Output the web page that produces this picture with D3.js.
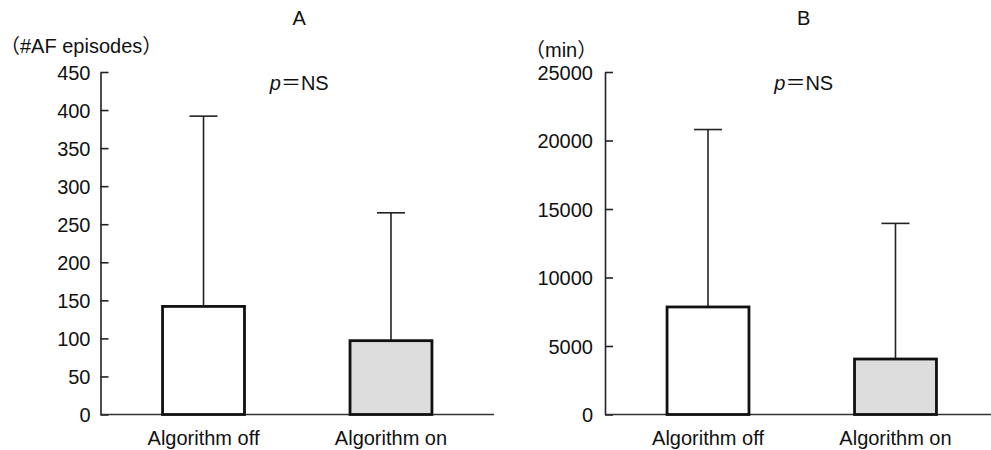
<!DOCTYPE html>
<html>
<head>
<meta charset="utf-8">
<script src="https://cdn.jsdelivr.net/npm/d3@7"></script>
<style>
  body { margin: 0; background: #fff; }
  svg text { font-family: "Liberation Sans", Arial, "Noto Sans CJK JP", sans-serif; fill: #111; }
</style>
</head>
<body>
<svg id="chart" width="991" height="450"></svg>
<script>
// Data
const groups = ['Algorithm off', 'Algorithm on'];
const barFills = ['#ffffff', '#dcdddc'];

// Panel A: number of AF episodes (mean, SD)
const episodesMean = [142, 97];
const episodesSd = [250, 168];
const episodesTicks = [0, 50, 100, 150, 200, 250, 300, 350, 400, 450];

// Panel B: AF duration in minutes (mean, SD)
const minutesMean = [7850, 4050];
const minutesSd = [12950, 9900];
const minutesTicks = [0, 5000, 10000, 15000, 20000, 25000];

const panels = [
    { title: 'A', unit: '（#AF episodes）', unitX: 0, unitY: 53, left: 100.5, mean: episodesMean, sd: episodesSd, ticks: episodesTicks, max: 450, pad: 10 },
    { title: 'B', unit: '（min）', unitX: 525, unitY: 57, left: 605, mean: minutesMean, sd: minutesSd, ticks: minutesTicks, max: 25000, pad: 12 }
];

const svg = d3.select('#chart');
const yBottom = 414.5;
const yTop = 72;
const panelWidth = 393.5;
const capWidth = 28;

panels.forEach(p => {
    const g = svg.append('g');

    const x = d3.scaleBand()
        .domain(groups)
        .range([p.left, p.left + panelWidth])
        .paddingInner(0.563)
        .paddingOuter(0.331);

    const y = d3.scaleLinear()
        .domain([0, p.max])
        .range([yBottom, yTop]);

    const centerX = (x(groups[0]) + x(groups[1]) + x.bandwidth()) / 2 + 2;

    // Titles
    g.append('text')
        .attr('x', centerX).attr('y', 25)
        .attr('text-anchor', 'middle')
        .style('font-size', '20px')
        .text(p.title);

    g.append('text')
        .attr('x', p.unitX).attr('y', p.unitY)
        .style('font-size', '20px')
        .text(p.unit);

    const pText = g.append('text')
        .attr('x', centerX).attr('y', 90)
        .attr('text-anchor', 'middle')
        .style('font-size', '20px');
    pText.append('tspan').style('font-style', 'italic').text('p');
    pText.append('tspan').text('＝NS');

    // Y axis with inward ticks
    const yAxis = g.append('g')
        .attr('transform', `translate(${p.left},0)`)
        .call(d3.axisLeft(y)
            .tickValues(p.ticks)
            .tickSizeInner(-8)
            .tickSizeOuter(0)
            .tickPadding(p.pad)
            .tickFormat(d3.format('d')));
    yAxis.select('.domain').attr('stroke', '#222').attr('stroke-width', 1.6);
    yAxis.selectAll('.tick line').attr('stroke', '#222').attr('stroke-width', 1.6);
    yAxis.selectAll('.tick text')
        .style('font-size', '20px')
        .attr('dy', '0.36em');

    // Baseline
    g.append('line')
        .attr('x1', p.left).attr('x2', Math.min(p.left + panelWidth, 991))
        .attr('y1', y(0)).attr('y2', y(0))
        .attr('stroke', '#333').attr('stroke-width', 1.6);

    // Error bars (upper only)
    groups.forEach((name, i) => {
        const cx = x(name) + x.bandwidth() / 2;
        g.append('line')
            .attr('x1', cx).attr('x2', cx)
            .attr('y1', y(p.mean[i])).attr('y2', y(p.mean[i] + p.sd[i]))
            .attr('stroke', '#222').attr('stroke-width', 1.6);
        g.append('line')
            .attr('x1', cx - capWidth / 2).attr('x2', cx + capWidth / 2)
            .attr('y1', y(p.mean[i] + p.sd[i])).attr('y2', y(p.mean[i] + p.sd[i]))
            .attr('stroke', '#222').attr('stroke-width', 1.6);
    });

    // Bars
    g.selectAll('.bar')
        .data(groups)
        .join('rect')
        .attr('class', 'bar')
        .attr('x', d => x(d))
        .attr('y', (d, i) => y(p.mean[i]))
        .attr('width', x.bandwidth())
        .attr('height', (d, i) => y(0) - y(p.mean[i]))
        .attr('fill', (d, i) => barFills[i])
        .attr('stroke', '#111')
        .attr('stroke-width', 2.8);

    // Category labels
    g.selectAll('.cat')
        .data(groups)
        .join('text')
        .attr('class', 'cat')
        .attr('x', d => x(d) + x.bandwidth() / 2)
        .attr('y', 445)
        .attr('text-anchor', 'middle')
        .style('font-size', '20px')
        .text(d => d);
});
</script>
</body>
</html>
